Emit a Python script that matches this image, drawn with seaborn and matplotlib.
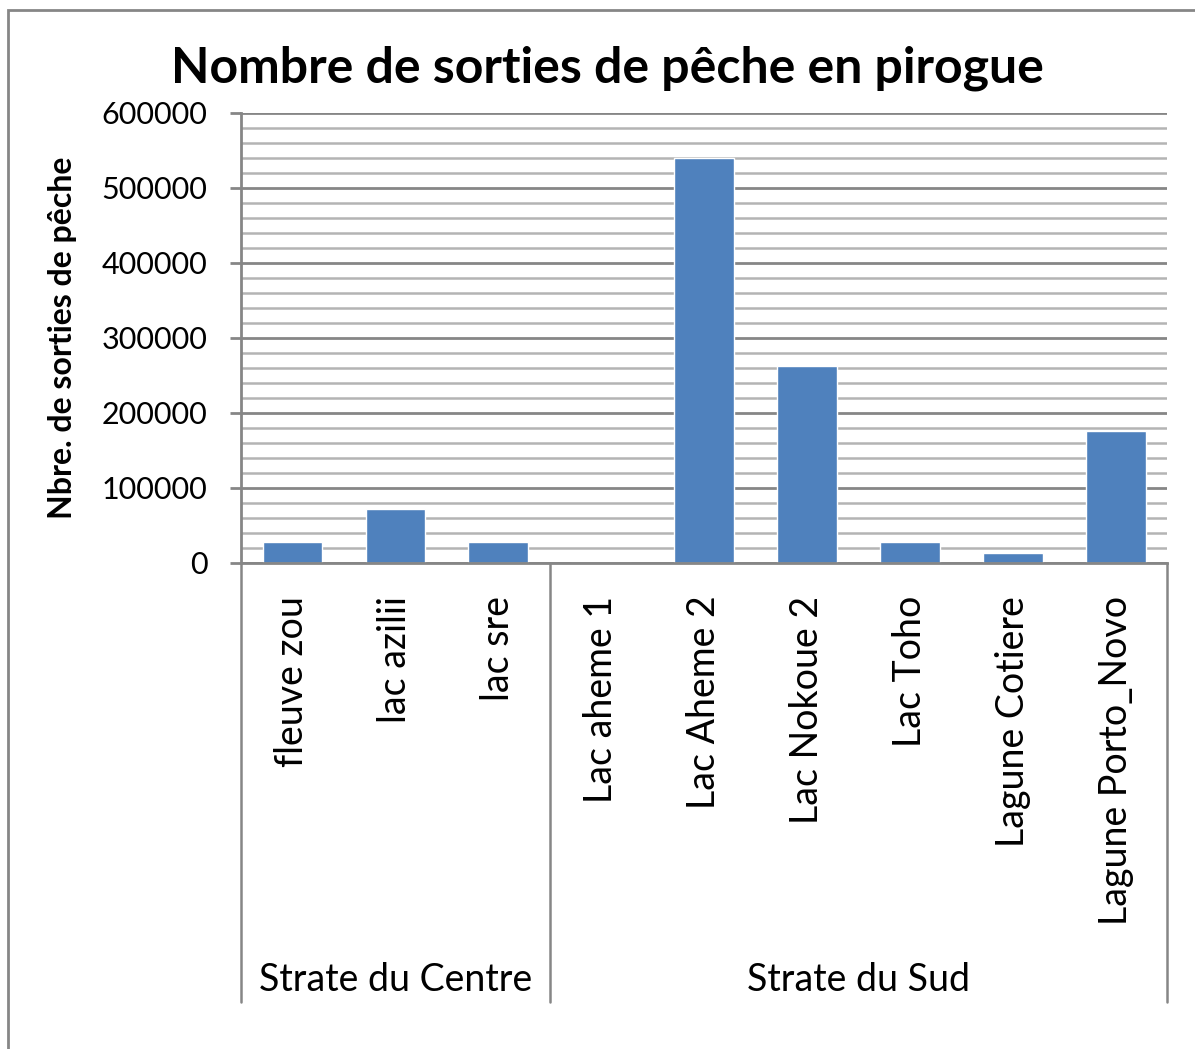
import numpy as np
import pandas as pd
import seaborn as sns
import matplotlib.pyplot as plt
from matplotlib.patches import Rectangle
from matplotlib.ticker import MultipleLocator
import matplotlib.transforms as mtransforms

# donnees
lacs = ["fleuve zou", "lac azilii", "lac sre", "Lac aheme 1", "Lac Aheme 2",
        "Lac Nokoue 2", "Lac Toho", "Lagune Cotiere", "Lagune Porto_Novo"]
sorties = [28000, 72000, 28000, 0, 540000, 263000, 28000, 13000, 176000]
strates = ["Strate du Centre", "Strate du Centre", "Strate du Centre",
           "Strate du Sud", "Strate du Sud", "Strate du Sud", "Strate du Sud",
           "Strate du Sud", "Strate du Sud"]

df = pd.DataFrame({"lac": lacs, "sorties": sorties, "strate": strates})

sns.set_style("white")
plt.rcParams["font.family"] = ["Lato", "DejaVu Sans"]
plt.rcParams["text.color"] = "black"
plt.rcParams["xtick.color"] = "black"
plt.rcParams["ytick.color"] = "black"
plt.rcParams["axes.labelcolor"] = "black"

fig = plt.figure(figsize=(11.95, 10.49), dpi=100)
ax = fig.add_axes([0.2017, 0.4633, 0.775, 0.429])

sns.barplot(data=df, x="lac", y="sorties", color="#4F81BD", width=0.58,
            saturation=1, ax=ax)

ax.set_ylim(0, 600000)
ax.set_xlim(-0.5, len(lacs) - 0.5)
ax.yaxis.set_major_locator(MultipleLocator(100000))
ax.yaxis.set_minor_locator(MultipleLocator(20000))
ax.grid(axis="y", which="major", color="#868686", lw=2)
ax.grid(axis="y", which="minor", color="#b4b4b4", lw=1.8)
ax.set_axisbelow(True)

for s in ["top", "right"]:
    ax.spines[s].set_visible(False)
for s in ["left", "bottom"]:
    ax.spines[s].set_color("#868686")
    ax.spines[s].set_linewidth(2)

ax.tick_params(axis="y", which="major", left=True, length=8, width=2,
               color="#868686", labelcolor="black", labelsize=22, pad=16)
ax.tick_params(axis="y", which="minor", left=False)
ax.tick_params(axis="x", bottom=False, labelsize=27, pad=20)
ax.set_yticklabels([str(int(v)) for v in ax.get_yticks()])
plt.setp(ax.get_xticklabels(), rotation=90, va="top")

ax.set_xlabel("")
ax.set_ylabel("Nbre. de sorties de pêche", fontsize=23, fontweight="bold",
              labelpad=18)
fig.text(0.508, 0.935, "Nombre de sorties de pêche en pirogue", fontsize=36,
         fontweight="bold", ha="center", va="center")

# separateurs des strates sous l'axe
trans = mtransforms.blended_transform_factory(ax.transData, ax.transAxes)
bornes = [-0.5]
centres = []
groupes = list(dict.fromkeys(strates))
for g in groupes:
    idx = [i for i, s in enumerate(strates) if s == g]
    centres.append((idx[0] + idx[-1]) / 2)
    bornes.append(idx[-1] + 0.5)
for b in bornes:
    ax.plot([b, b], [0, -0.976], transform=trans, color="#868686", lw=1.8,
            clip_on=False)
for g, c in zip(groupes, centres):
    ax.text(c, -0.927, g, transform=trans, ha="center", va="center",
            fontsize=27)

# cadre du graphique
fig.patches.append(Rectangle((0.007, -0.1), 1.2, 1.0905, fill=False,
                             edgecolor="#868686", lw=2,
                             transform=fig.transFigure))

fig.savefig("out.png", dpi=100)
